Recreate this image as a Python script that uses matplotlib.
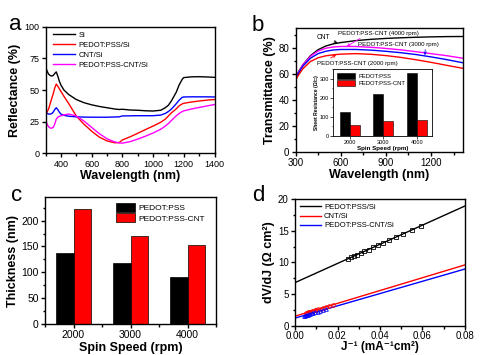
import matplotlib
matplotlib.use("Agg")
import matplotlib.pyplot as plt
import numpy as np
from matplotlib.ticker import MultipleLocator

plt.rcParams['font.family'] = ['Liberation Sans', 'DejaVu Sans']
plt.rcParams['mathtext.default'] = 'regular'

# ---------------- Panel a data ----------------
wl_a = [300, 310, 320, 330, 340, 350, 360, 370, 380, 390, 400, 420, 450, 500, 550, 600, 650,
        700, 750, 780, 800, 850, 900, 950, 1000, 1050, 1080, 1100, 1120, 1150, 1170, 1190, 1200,
        1250, 1300, 1350, 1400]
refl_si = [68.5, 65, 62.5, 61.5, 61, 61.5, 63, 64.3, 61, 57, 54, 50, 46.5, 42.5, 40, 38.3, 37,
           36, 35, 34.6, 34.8, 34.2, 34, 33.6, 33.4, 34, 36, 38, 41.5, 48, 54, 58.5, 59.8,
           60.4, 60.5, 60.3, 60]
refl_pedot = [31, 32.5, 35, 39, 43, 47, 51.5, 54.7, 53, 51, 49, 45, 39.5, 29.5, 23, 17.5, 12.8,
              9.8, 8.3, 8.5, 10.5, 13, 15.8, 18.7, 21.5, 24.5, 27, 29.5, 32, 35, 37.5, 39, 39.5,
              40.5, 41.3, 42, 42.5]
refl_cnt = [32.5, 31.5, 31, 31, 31.3, 32.5, 34.5, 36, 34.5, 32.5, 31, 30, 29.3, 28.8, 28.6, 28.5,
            28.5, 28.5, 28.7, 28.8, 29.5, 29.6, 29.7, 29.7, 29.7, 30.2, 31.5, 33, 35, 39, 42,
            44.2, 44.5, 44.6, 44.6, 44.6, 44.5]
refl_pcnt = [27, 23, 21, 20, 19.8, 20.5, 23, 27, 28.5, 29.2, 29.6, 30.3, 31, 29.5, 25.5, 20.5,
             15.5, 11.5, 9, 8.2, 8, 9.2, 11.2, 13.5, 16, 19, 21.5, 23.5, 26, 29.5, 31.5, 33,
             33.5, 35, 36.2, 37.4, 38.5]

# ---------------- Panel b data ----------------
wl_b = [300, 320, 350, 400, 450, 500, 550, 600, 700, 800, 900, 1000, 1100, 1200, 1300, 1420]
trans_cnt = [57, 61.5, 67, 74, 78.5, 81.3, 83, 84, 85.5, 86.5, 87.2, 87.7, 88.1, 88.4, 88.6, 88.7]
trans_4000 = [56, 61, 67, 73.5, 77.5, 79.6, 80.6, 81, 81, 80.4, 79.5, 78.4, 77, 75.5, 74, 71.8]
trans_3000 = [56, 60.5, 66, 72, 75.5, 77.3, 78.3, 78.7, 78.7, 78.2, 77.3, 76.2, 74.8, 73, 71, 68.3]
trans_2000 = [55, 59, 64, 69.5, 72.3, 73.8, 74.6, 75.1, 75.5, 75, 74, 72.6, 70.8, 68.8, 66.6, 64]

# inset: sheet resistance
speeds = [2000, 3000, 4000]
rs_pedot = [124, 223, 333]
rs_pcnt = [56, 77, 84]

# ---------------- Panel c data ----------------
thick_pedot = [137, 117, 90]
thick_pcnt = [223, 170, 152]

# ---------------- Panel d data ----------------
jinv_pedot = [0.0249, 0.0263, 0.0276, 0.0291, 0.0309, 0.0326, 0.0346, 0.0369, 0.0392, 0.0416,
              0.0443, 0.0474, 0.0510, 0.0550, 0.0592]
dvdj_pedot = [10.56, 10.77, 10.97, 11.19, 11.47, 11.72, 12.02, 12.37, 12.72, 13.08, 13.49,
              13.96, 14.50, 15.11, 15.74]
jinv_cnt = [0.0050, 0.0055, 0.0060, 0.0066, 0.0072, 0.0078, 0.0085, 0.0092, 0.0100, 0.0110,
            0.0120, 0.0132, 0.0145, 0.0160, 0.0178]
dvdj_cnt = [2.0, 2.05, 2.1, 2.15, 2.2, 2.3, 2.35, 2.45, 2.5, 2.6, 2.7, 2.85, 2.95, 3.1, 3.3]
jinv_pcnt = [0.0042, 0.0046, 0.0050, 0.0055, 0.0060, 0.0066, 0.0072, 0.0079, 0.0087, 0.0096,
             0.0106, 0.0118, 0.0132, 0.0148]
dvdj_pcnt = [1.55, 1.6, 1.65, 1.7, 1.75, 1.8, 1.9, 1.95, 2.0, 2.1, 2.2, 2.3, 2.45, 2.6]
fit_x = [0.0, 0.08]
fit_pedot = [6.8, 18.9]
fit_cnt = [1.5, 9.6]
fit_pcnt = [1.2, 8.95]

W, H = 500, 355
fig = plt.figure(figsize=(W / 100, H / 100), dpi=100)


def ax_px(l, r, t, b):
    return fig.add_axes([l / W, 1 - b / H, (r - l) / W, (b - t) / H])


def style(ax, tsize=6.5, lw=1.0):
    for s in ax.spines.values():
        s.set_linewidth(lw)
    ax.tick_params(which='both', direction='out', top=False, right=False, labelsize=tsize,
                   width=lw, pad=1.5)
    ax.tick_params(which='major', length=3)
    ax.tick_params(which='minor', length=1.8)


LBL = dict(fontsize=9, fontweight='bold')

# ---------------- Panel a ----------------
ax = ax_px(45.5, 214.5, 26.7, 153.3)
ax.plot(wl_a, refl_si, color='black', lw=1.0, label='Si')
ax.plot(wl_a, refl_pedot, color='red', lw=1.0, label='PEDOT:PSS/Si')
ax.plot(wl_a, refl_cnt, color='blue', lw=1.0, label='CNT/Si')
ax.plot(wl_a, refl_pcnt, color='magenta', lw=1.0, label='PEDOT:PSS-CNT/Si')
ax.set_xlim(300, 1400)
ax.set_ylim(0, 100)
ax.set_xticks([400, 600, 800, 1000, 1200, 1400])
ax.xaxis.set_minor_locator(MultipleLocator(100))
ax.set_yticks([0, 25, 50, 75, 100])
style(ax)
ax.set_xlabel('Wavelength (nm)', labelpad=1, **LBL)
ax.set_ylabel('Reflectance (%)', labelpad=2, **LBL)
ax.legend(loc='upper left', frameon=False, fontsize=5.5, handlelength=2.8, labelspacing=0.35,
          borderaxespad=0.2, handletextpad=0.5, bbox_to_anchor=(0.02, 1.0))
fig.text(9 / W, 1 - 30 / H, 'a', fontsize=16)

# ---------------- Panel b ----------------
ax = ax_px(295.5, 463.3, 28.3, 151.7)
ax.plot(wl_b, trans_cnt, color='black', lw=1.0)
ax.plot(wl_b, trans_4000, color='magenta', lw=1.0)
ax.plot(wl_b, trans_3000, color='blue', lw=1.0)
ax.plot(wl_b, trans_2000, color='red', lw=1.0)
ax.set_xlim(300, 1415)
ax.set_ylim(0, 95)
ax.set_xticks([300, 600, 900, 1200])
ax.xaxis.set_minor_locator(MultipleLocator(150))
ax.set_yticks([0, 20, 40, 60, 80])
ax.yaxis.set_minor_locator(MultipleLocator(10))
style(ax, tsize=7)
ax.set_xlabel('Wavelength (nm)', labelpad=1, **LBL)
ax.set_ylabel('Transmittance (%)', labelpad=2, **LBL)
afs = 4.4
ax.annotate('CNT', xy=(580, 83.7), xytext=(484, 87.7), fontsize=afs + 0.4, ha='center',
            va='center',
            arrowprops=dict(arrowstyle='->', color='black', lw=0.6, shrinkA=1, shrinkB=0))
ax.annotate('PEDOT:PSS-CNT (4000 rpm)', xy=(640, 81.1), xytext=(583, 91.2), fontsize=afs,
            ha='left', va='center',
            arrowprops=dict(arrowstyle='->', color='magenta', lw=0.6, shrinkA=0, shrinkB=0,
                            relpos=(0.33, 0.0)))
ax.annotate('PEDOT:PSS-CNT (3000 rpm)', xy=(1160, 74.2), xytext=(717, 82.6), fontsize=afs,
            ha='left', va='center',
            arrowprops=dict(arrowstyle='->', color='blue', lw=0.6, shrinkA=0, shrinkB=0,
                            relpos=(0.83, 0.0)))
ax.annotate('PEDOT:PSS-CNT (2000 rpm)', xy=(570, 74.7), xytext=(440, 68), fontsize=afs,
            ha='left', va='center',
            arrowprops=dict(arrowstyle='->', color='red', lw=0.6, shrinkA=0, shrinkB=0,
                            relpos=(0.12, 1.0)))
fig.text(252 / W, 1 - 31 / H, 'b', fontsize=16)

# inset
ax = ax_px(333.3, 431.7, 69.3, 136)
bw = 300
ax.bar([s - bw / 2 for s in speeds], rs_pedot, width=bw, color='black', edgecolor='black',
       lw=0.4, label='PEDOT:PSS')
ax.bar([s + bw / 2 for s in speeds], rs_pcnt, width=bw, color='red', edgecolor='black',
       lw=0.4, label='PEDOT:PSS-CNT')
ax.set_xlim(1500, 4450)
ax.set_ylim(0, 350)
ax.set_xticks(speeds)
ax.set_yticks([0, 100, 200, 300])
ax.yaxis.set_minor_locator(MultipleLocator(50))
for s in ax.spines.values():
    s.set_linewidth(0.6)
ax.tick_params(which='both', direction='out', labelsize=4, width=0.5, pad=1)
ax.tick_params(which='major', length=2)
ax.tick_params(which='minor', length=1)
ax.set_xlabel('Spin Speed (rpm)', fontsize=4.5, fontweight='bold', labelpad=0.5)
ax.set_ylabel('Sheet Resistance (Ω/□)', fontsize=3.6, fontweight='bold', labelpad=0.5)
ax.legend(loc='upper left', frameon=False, fontsize=4.2, handlelength=3.2, handleheight=1.3,
          labelspacing=0.1, borderaxespad=0.2, handletextpad=0.5)

# ---------------- Panel c ----------------
ax = ax_px(45, 216, 197.3, 324)
bw = 300
ax.bar([s - bw / 2 for s in speeds], thick_pedot, width=bw, color='black', edgecolor='black',
       lw=0.5, label='PEDOT:PSS')
ax.bar([s + bw / 2 for s in speeds], thick_pcnt, width=bw, color='red', edgecolor='black',
       lw=0.5, label='PEDOT:PSS-CNT')
ax.set_xlim(1500, 4500)
ax.set_ylim(0, 245)
ax.set_xticks(speeds)
ax.xaxis.set_minor_locator(MultipleLocator(500))
ax.set_yticks([0, 50, 100, 150, 200])
ax.yaxis.set_minor_locator(MultipleLocator(25))
style(ax, tsize=7.5)
ax.set_xlabel('Spin Speed (rpm)', labelpad=1, **LBL)
ax.set_ylabel('Thickness (nm)', labelpad=2, **LBL)
ax.legend(loc='upper right', frameon=False, fontsize=6, handlelength=2.3, handleheight=1.2,
          labelspacing=0.15, borderaxespad=0.3, handletextpad=0.4, bbox_to_anchor=(0.97, 1.0))
fig.text(11 / W, 1 - 201 / H, 'c', fontsize=16)

# ---------------- Panel d ----------------
ax = ax_px(295, 465, 199, 325.7)
ax.plot(fit_x, fit_pedot, color='black', lw=1.0, label='PEDOT:PSS/Si')
ax.plot(fit_x, fit_cnt, color='red', lw=1.0, label='CNT/Si')
ax.plot(fit_x, fit_pcnt, color='blue', lw=1.0, label='PEDOT:PSS-CNT/Si')
ax.plot(jinv_pedot, dvdj_pedot, ls='none', marker='s', ms=2.6, mfc='none', mec='black', mew=0.6)
ax.plot(jinv_cnt, dvdj_cnt, ls='none', marker='o', ms=2.6, mfc='none', mec='red', mew=0.6)
ax.plot(jinv_pcnt, dvdj_pcnt, ls='none', marker='^', ms=2.6, mfc='none', mec='blue', mew=0.6)
ax.set_xlim(0, 0.08)
ax.set_ylim(0, 20)
ax.set_xticks([0, 0.02, 0.04, 0.06, 0.08])
ax.set_xticklabels(['0.00', '0.02', '0.04', '0.06', '0.08'])
ax.xaxis.set_minor_locator(MultipleLocator(0.01))
ax.set_yticks([0, 5, 10, 15, 20])
ax.yaxis.set_minor_locator(MultipleLocator(2.5))
style(ax, tsize=7)
ax.tick_params(axis='x', pad=1)
ax.set_xlabel('J⁻¹ (mA⁻¹cm²)', labelpad=0, fontsize=8.5, fontweight='bold')
ax.set_ylabel('dV/dJ (Ω cm²)', labelpad=2, **LBL)
ax.legend(loc='upper left', frameon=False, fontsize=5.5, handlelength=2.8, labelspacing=0.25,
          borderaxespad=0.2, handletextpad=0.4)
fig.text(252 / W, 1 - 201 / H, 'd', fontsize=16)

fig.savefig('out.png', dpi=100)
